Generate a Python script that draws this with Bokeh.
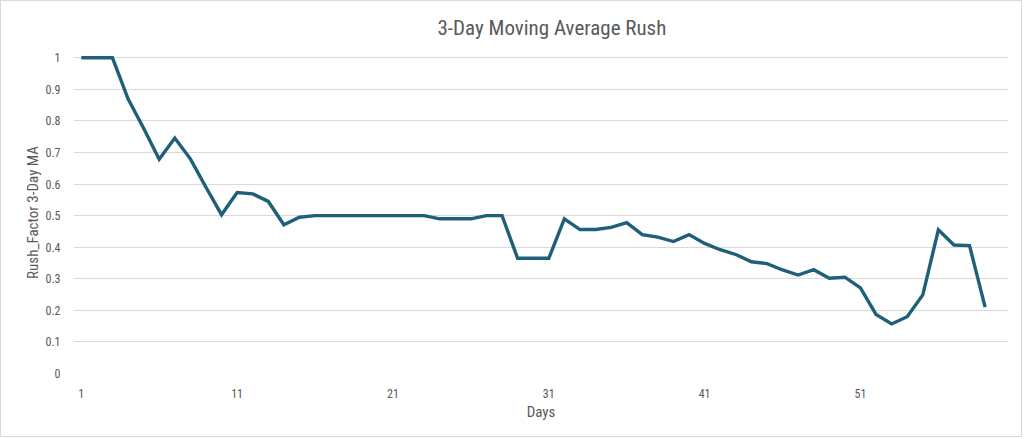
from bokeh.plotting import figure
from bokeh.models import FixedTicker, Range1d, CustomJSTickFormatter
from bokeh.embed import file_html
from bokeh.resources import INLINE

days = list(range(1, 60))
rush_ma = [1.0, 1.0, 1.0, 0.87, 0.777, 0.679, 0.746, 0.68, 0.59, 0.503,
           0.573, 0.569, 0.545, 0.471, 0.495, 0.5, 0.5, 0.5, 0.5, 0.5,
           0.5, 0.5, 0.5, 0.49, 0.49, 0.49, 0.5, 0.5, 0.365, 0.365,
           0.365, 0.49, 0.456, 0.456, 0.463, 0.478, 0.44, 0.432, 0.418, 0.44,
           0.412, 0.392, 0.377, 0.354, 0.348, 0.328, 0.312, 0.329, 0.302, 0.305,
           0.271, 0.187, 0.157, 0.18, 0.249, 0.455, 0.407, 0.405, 0.21]
x_ticks = [1, 11, 21, 31, 41, 51]
y_ticks = [0, 0.1, 0.2, 0.3, 0.4, 0.5, 0.6, 0.7, 0.8, 0.9, 1.0]

FONT = "Roboto Condensed, Roboto, sans-serif"
GRAY = "#595959"

p = figure(width=1022, height=437, output_backend="svg", toolbar_location=None,
           x_range=Range1d(0.5, 60.5), y_range=Range1d(0, 1.02),
           min_border_left=72, min_border_right=15, min_border_top=50,
           min_border_bottom=65)
p.styles = {"border": "1px solid #d9d9d9"}
p.outline_line_color = None

p.title.text = "3-Day Moving Average Rush"
p.title.align = "left"
p.title.offset = 364
p.title.standoff = 20
p.title.vertical_align = "top"
p.title.text_font = FONT
p.title.text_font_size = "21px"
p.title.text_font_style = "normal"
p.title.text_color = GRAY

p.line(days, rush_ma, line_color="#1F5F7A", line_width=3.4, line_join="miter")

p.xgrid.grid_line_color = None
p.ygrid.grid_line_color = "#d9d9d9"
p.ygrid.grid_line_width = 1.2

p.yaxis.ticker = FixedTicker(ticks=y_ticks)
p.xaxis.ticker = FixedTicker(ticks=x_ticks)
p.yaxis.formatter = CustomJSTickFormatter(code="return String(Math.round(tick*10)/10);")

for ax in (p.xaxis[0], p.yaxis[0]):
    ax.axis_line_color = None
    ax.major_tick_line_color = None
    ax.minor_tick_line_color = None
    ax.major_label_text_font = FONT
    ax.major_label_text_font_size = "12px"
    ax.major_label_text_color = GRAY
    ax.axis_label_text_font = FONT
    ax.axis_label_text_font_size = "15px"
    ax.axis_label_text_color = GRAY
    ax.axis_label_text_font_style = "normal"

p.xaxis.axis_label = "Days"
p.yaxis.axis_label = "Rush_Factor 3-Day MA"
p.yaxis.major_label_standoff = 7
p.xaxis.major_label_standoff = 9
p.yaxis.axis_label_standoff = 0
p.xaxis.axis_label_standoff = 2

open("out.html", "w").write(file_html(p, INLINE))
